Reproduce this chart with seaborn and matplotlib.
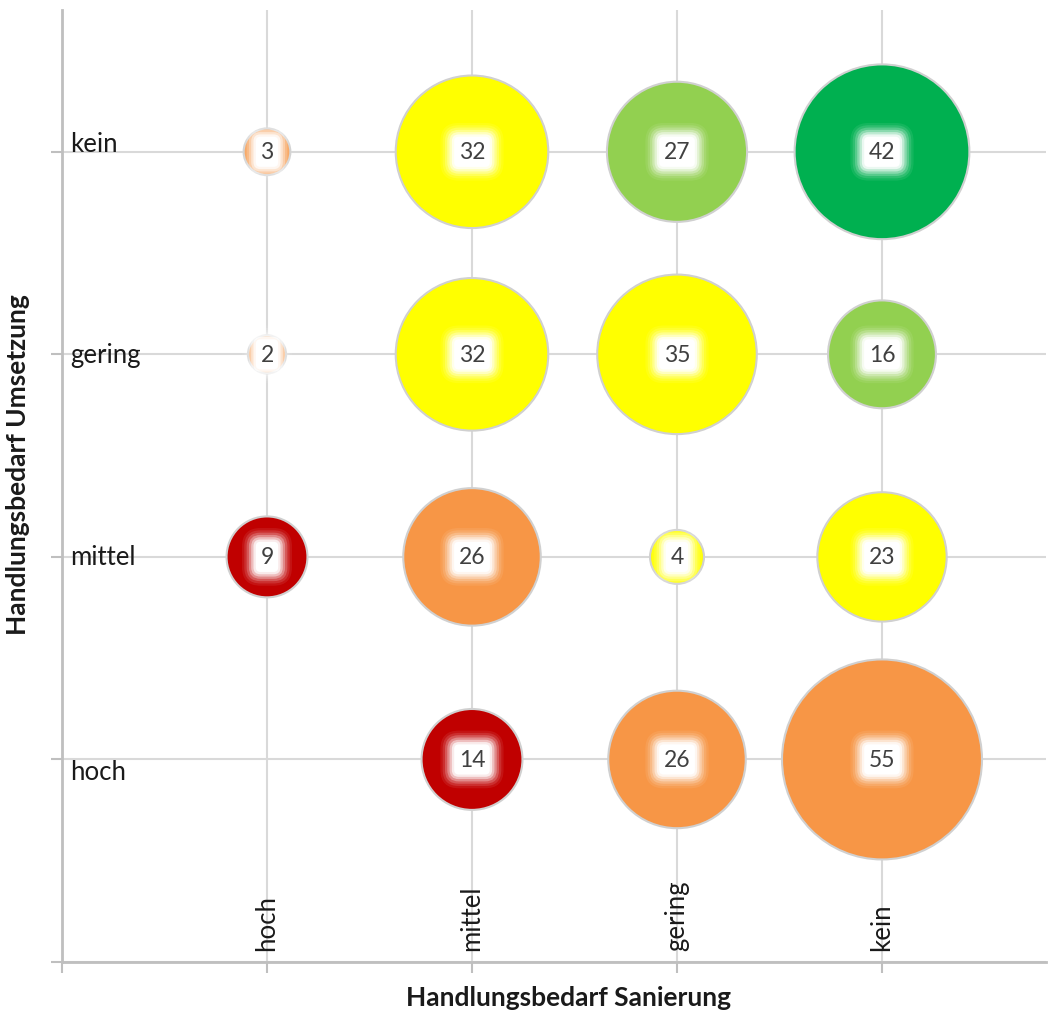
import matplotlib
matplotlib.use("Agg")
import matplotlib.pyplot as plt
import seaborn as sns
import pandas as pd

# Handlungsbedarf categories (position 1..4 on each axis)
sanierung_labels = ["hoch", "mittel", "gering", "kein"]
umsetzung_labels = ["hoch", "mittel", "gering", "kein"]

# One entry per bubble: x = Sanierung, y = Umsetzung
x_sanierung = ["hoch", "mittel", "gering", "kein",
               "hoch", "mittel", "gering", "kein",
               "hoch", "mittel", "gering", "kein",
               "mittel", "gering", "kein"]
y_umsetzung = ["kein", "kein", "kein", "kein",
               "gering", "gering", "gering", "gering",
               "mittel", "mittel", "mittel", "mittel",
               "hoch", "hoch", "hoch"]
anzahl = [3, 32, 27, 42,
          2, 32, 35, 16,
          9, 26, 4, 23,
          14, 26, 55]
stufe = ["orange", "gelb", "hellgruen", "gruen",
         "orange", "gelb", "gelb", "hellgruen",
         "rot", "orange", "gelb", "gelb",
         "rot", "orange", "orange"]

farben = {"rot": "#C00000", "orange": "#F79646", "gelb": "#FFFF00",
          "hellgruen": "#92D050", "gruen": "#00B050"}

df = pd.DataFrame({
    "x": [sanierung_labels.index(v) + 1 for v in x_sanierung],
    "y": [umsetzung_labels.index(v) + 1 for v in y_umsetzung],
    "anzahl": anzahl,
    "stufe": stufe,
})

sns.set_theme(style="white")
plt.rcParams["font.family"] = ["Lato", "DejaVu Sans"]

fig = plt.figure(figsize=(10.49, 10.12), dpi=100)
ax = fig.add_axes([62 / 1049, 49 / 1012, (1046 - 62) / 1049, (963 - 11) / 1012])

# bubble area proportional to value: 55 -> radius of 72 pt
max_area = (2 * 72) ** 2
sns.scatterplot(data=df, x="x", y="y", size="anzahl", hue="stufe",
                palette=farben, sizes=(0, max_area), size_norm=(0, 55),
                edgecolor="#D0D0D0", linewidth=1.5, alpha=1,
                legend=False, ax=ax, zorder=3, clip_on=False)

# value labels with a soft white glow
glow = [(0.8, 0.08), (0.7, 0.12), (0.6, 0.2), (0.5, 0.3),
        (0.4, 0.45), (0.3, 0.7), (0.2, 1.0)]
for _, r in df.iterrows():
    for pad, a in glow:
        ax.text(r.x, r.y, str(r.anzahl), fontsize=16.5, color="none",
                ha="center", va="center", zorder=4,
                bbox=dict(boxstyle=f"round,pad={pad}", fc="white", ec="none", alpha=a))
    ax.text(r.x, r.y, str(r.anzahl), fontsize=16.5, color="#404040",
            ha="center", va="center", zorder=5)

ax.set_xlim(0, 4.8)
ax.set_ylim(0, 4.7)
ax.set_xticks([0, 1, 2, 3, 4])
ax.set_yticks([0, 1, 2, 3, 4])
ax.set_xticklabels([])
ax.set_yticklabels([])
ax.grid(True, color="#D9D9D9", linewidth=1.5)
ax.set_axisbelow(True)
ax.tick_params(axis="both", which="both", length=8, width=1.5, color="#BFBFBF",
               left=True, bottom=True)
for side in ["top", "right"]:
    ax.spines[side].set_visible(False)
for side in ["left", "bottom"]:
    ax.spines[side].set_color("#BFBFBF")
    ax.spines[side].set_linewidth(2)
ax.set_xlabel("")
ax.set_ylabel("")

# category labels drawn inside the plot area
y_offsets = {"kein": 0.04, "gering": 0.0, "mittel": 0.0, "hoch": -0.06}
for i, lab in enumerate(umsetzung_labels):
    ax.text(0.04, i + 1 + y_offsets[lab], lab, fontsize=18.5, color="#1a1a1a",
            ha="left", va="center")
for i, lab in enumerate(sanierung_labels):
    ax.text(i + 1, 0.06, lab, fontsize=18.5, color="#1a1a1a", rotation=90,
            ha="center", va="bottom")

fig.text(568 / 1049, 1 - 998 / 1012, "Handlungsbedarf Sanierung", fontsize=19,
         fontweight="bold", ha="center", va="center", color="#1a1a1a")
fig.text(18 / 1049, 1 - 465 / 1012, "Handlungsbedarf Umsetzung", fontsize=19,
         fontweight="bold", ha="center", va="center", rotation=90, color="#1a1a1a")

fig.savefig("out.png", dpi=100, facecolor="white")
